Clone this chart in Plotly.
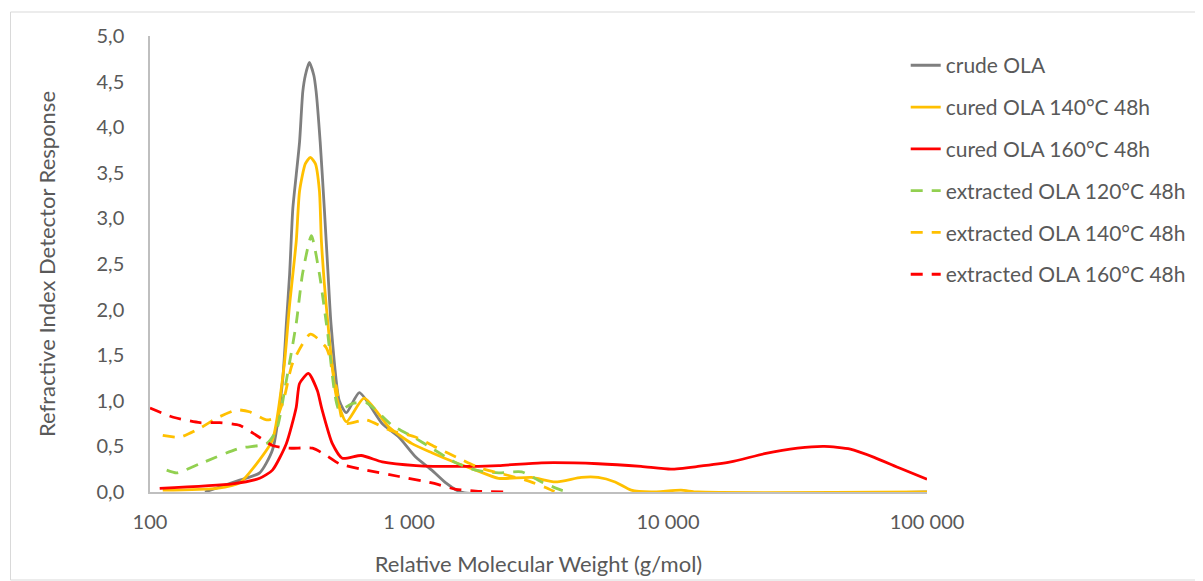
import plotly.graph_objects as go

# ---- data ----
crude_mw = [163, 222, 265, 297, 325, 336, 346, 356, 367, 378, 389, 398, 412, 429, 438, 454, 471, 487, 500, 538, 573, 643, 788, 915, 1064, 1225, 1387, 1585, 100000]
crude_y = [0.0, 0.13, 0.21, 0.46, 1.22, 1.84, 2.39, 3.11, 3.48, 3.84, 4.39, 4.57, 4.71, 4.57, 4.39, 3.84, 3.11, 2.39, 1.84, 1.0, 0.87, 1.09, 0.75, 0.6, 0.38, 0.24, 0.1, 0.0, 0.0]

cured140_mw = [112, 181, 222, 258, 297, 330, 345, 367, 378, 398, 416, 435, 451, 459, 480, 524, 573, 671, 838, 1027, 1225, 1517, 1810, 2218, 2972, 3674, 4624, 5379, 6250, 7212, 8604, 11220, 13040, 100000]
cured140_y = [0.02, 0.04, 0.1, 0.31, 0.57, 1.4, 2.02, 2.75, 3.3, 3.6, 3.67, 3.6, 3.3, 2.75, 2.02, 1.05, 0.77, 1.03, 0.71, 0.53, 0.43, 0.32, 0.24, 0.15, 0.16, 0.11, 0.16, 0.16, 0.11, 0.02, 0.0, 0.02, 0.0, 0.0]

cured160_mw = [109, 208, 265, 297, 336, 367, 378, 409, 443, 459, 506, 553, 654, 788, 1064, 1557, 2218, 3249, 5379, 7873, 10270, 13040, 17460, 23600, 31620, 40180, 50580, 62500, 78730, 100000]
cured160_y = [0.04, 0.09, 0.15, 0.24, 0.53, 0.93, 1.19, 1.30, 1.11, 0.93, 0.53, 0.37, 0.40, 0.33, 0.29, 0.28, 0.29, 0.32, 0.31, 0.28, 0.25, 0.28, 0.33, 0.42, 0.48, 0.50, 0.47, 0.38, 0.26, 0.14]

ext120_mw = [116, 127, 156, 222, 282, 308, 336, 367, 388, 420, 451, 484, 538, 604, 684, 861, 1045, 1225, 1517, 1810, 2218, 2722, 3249, 3874, 4124]
ext120_y = [0.24, 0.21, 0.31, 0.48, 0.53, 0.68, 1.22, 1.85, 2.39, 2.81, 2.39, 1.77, 0.90, 0.97, 0.98, 0.73, 0.60, 0.48, 0.32, 0.24, 0.21, 0.22, 0.11, 0.02, 0.0]

ext140_mw = [112, 130, 156, 181, 216, 242, 282, 308, 330, 355, 416, 480, 524, 553, 578, 684, 838, 1064, 1270, 1557, 1858, 2820, 3366, 3674]
ext140_y = [0.62, 0.60, 0.70, 0.81, 0.90, 0.88, 0.79, 0.82, 1.04, 1.41, 1.73, 1.58, 1.15, 0.79, 0.75, 0.79, 0.68, 0.60, 0.49, 0.37, 0.27, 0.13, 0.05, 0.0]

ext160_mw = [100, 123, 156, 186, 222, 258, 297, 345, 424, 480, 538, 684, 915, 1225, 1517, 1810, 2360]
ext160_y = [0.92, 0.82, 0.76, 0.76, 0.73, 0.62, 0.51, 0.48, 0.48, 0.40, 0.31, 0.24, 0.17, 0.10, 0.03, 0.01, 0.0]

series_names = ["crude OLA", "cured OLA 140°C 48h", "cured OLA 160°C 48h",
                "extracted OLA 120°C 48h", "extracted OLA 140°C 48h", "extracted OLA 160°C 48h"]

x_ticks = [100, 1000, 10000, 100000]
y_ticks = [0, 0.5, 1.0, 1.5, 2.0, 2.5, 3.0, 3.5, 4.0, 4.5, 5.0]

# ---- styles ----
GREY = "#7F7F7F"
YELLOW = "#FFC000"
RED = "#FF0000"
GREEN = "#92D050"
TEXT = "#595959"
FONT = "Lato, Open Sans, sans-serif"
DASH = "12px,9px"

data = [
    (crude_mw, crude_y, GREY, "solid"),
    (cured140_mw, cured140_y, YELLOW, "solid"),
    (cured160_mw, cured160_y, RED, "solid"),
    (ext120_mw, ext120_y, GREEN, DASH),
    (ext140_mw, ext140_y, YELLOW, DASH),
    (ext160_mw, ext160_y, RED, DASH),
]

fig = go.Figure()
for i, ((xs, ys, col, dash), name) in enumerate(zip(data, series_names)):
    fig.add_trace(go.Scatter(
        x=xs, y=ys, mode="lines", name=name, legendgroup=f"g{i}",
        line=dict(color=col, width=2.8, dash=dash, shape="spline", smoothing=0.6),
    ))

fig.update_layout(
    width=1195, height=573,
    margin=dict(l=142, r=273, t=28, b=89),
    paper_bgcolor="white", plot_bgcolor="white",
    separators=", ",
    font=dict(family=FONT, size=20, color=TEXT),
    showlegend=True,
    legend=dict(x=0.9726, y=0.98, xanchor="left", yanchor="top",
                tracegroupgap=11.5, font=dict(size=21, color=TEXT),
                bgcolor="rgba(0,0,0,0)"),
    xaxis=dict(type="log", range=[2, 5], tickvals=x_ticks, tickformat=",d",
               showgrid=False, zeroline=False, showline=True, linecolor="#BFBFBF",
               linewidth=1.5, ticks="", ticklabelstandoff=11, automargin=False,
               tickfont=dict(size=20, color=TEXT),
               title=dict(text="Relative Molecular Weight (g/mol)", standoff=25,
                          font=dict(size=22, color=TEXT))),
    yaxis=dict(range=[0, 5], tickvals=y_ticks, tickformat=".1f",
               showgrid=False, zeroline=False, showline=True, linecolor="#BFBFBF",
               linewidth=1.5, ticks="", ticklabelstandoff=20, automargin=False,
               tickfont=dict(size=20, color=TEXT),
               title=dict(text="Refractive Index Detector Response", standoff=35,
                          font=dict(size=22, color=TEXT))),
    shapes=[dict(type="rect", xref="paper", yref="paper",
                 x0=-0.1795, x1=1.3487, y0=-0.193, y1=1.0526,
                 line=dict(color="#D9D9D9", width=1), fillcolor="rgba(0,0,0,0)",
                 layer="below")],
)

fig.write_html("out.html")
